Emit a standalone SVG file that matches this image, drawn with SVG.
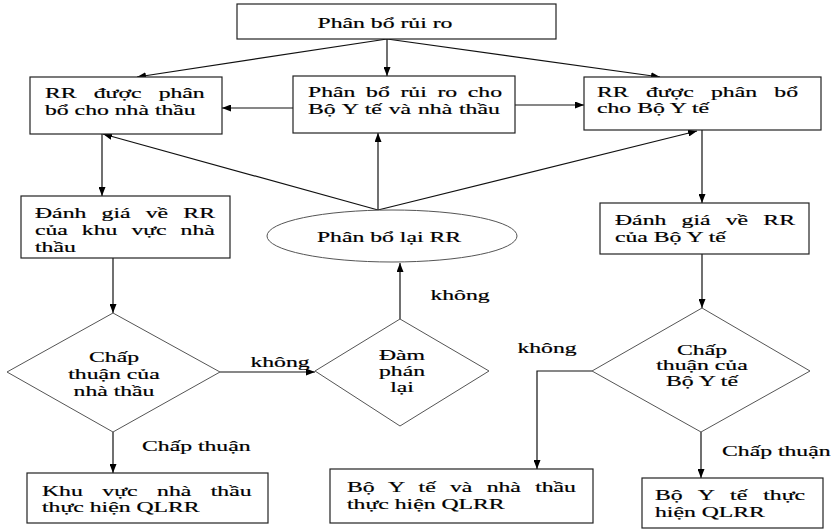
<svg xmlns="http://www.w3.org/2000/svg" width="835" height="530" viewBox="0 0 835 530">
<defs>
<style>
.t{font-family:"Liberation Serif","Times New Roman","DejaVu Serif",serif;font-size:15px;fill:#000;stroke:#000;stroke-width:0.2}
.m{text-anchor:middle}
.box{fill:#fff;stroke:#222;stroke-width:1.2}
.dia{fill:#fff;stroke:#555;stroke-width:1}
.c{fill:none;stroke:#111;stroke-width:1.2;marker-end:url(#a)}
</style>
<marker id="a" markerWidth="9" markerHeight="7" refX="9" refY="3.5" orient="auto" markerUnits="userSpaceOnUse"><path d="M0,0 L9,3.5 L0,7 z" fill="#000"/></marker>
</defs>
<rect width="835" height="530" fill="#fff"/>

<g id="connectors">
<line class="c" x1="387" y1="39" x2="137" y2="77"/>
<line class="c" x1="387" y1="39" x2="387" y2="76"/>
<line class="c" x1="387" y1="39" x2="660" y2="77"/>
<line class="c" x1="293" y1="108" x2="222" y2="108"/>
<line class="c" x1="515" y1="105" x2="584" y2="105"/>
<line class="c" x1="378" y1="210" x2="103" y2="134"/>
<line class="c" x1="378" y1="210" x2="378" y2="133"/>
<line class="c" x1="378" y1="210" x2="697" y2="131"/>
<line class="c" x1="102" y1="134" x2="102" y2="196"/>
<line class="c" x1="113" y1="258" x2="113" y2="313"/>
<line class="c" x1="220" y1="372" x2="315" y2="372"/>
<line class="c" x1="400" y1="319" x2="400" y2="263"/>
<line class="c" x1="113" y1="432" x2="113" y2="473"/>
<line class="c" x1="702" y1="130" x2="702" y2="203"/>
<line class="c" x1="702" y1="254" x2="702" y2="308"/>
<polyline class="c" points="592,371 537,371 537,469"/>
<line class="c" x1="701" y1="432" x2="701" y2="478"/>
<text class="t m" transform="translate(280,367) scale(1.58,1)">không</text>
<text class="t m" transform="translate(460,300) scale(1.58,1)">không</text>
<text class="t m" transform="translate(547,353) scale(1.58,1)">không</text>
<text class="t" transform="translate(142,451) scale(1.58,1)">Chấp thuận</text>
<text class="t" transform="translate(722,456) scale(1.58,1)">Chấp thuận</text>
</g>

<g id="n-top">
<rect class="box" x="237" y="4" width="319" height="35"/>
<text class="t m" transform="translate(385,28) scale(1.58,1)">Phân bổ rủi ro</text>
</g>

<g id="n-rr-nhathau">
<rect class="box" x="30" y="77" width="192" height="57"/>
<text class="t" transform="translate(45,98) scale(1.58,1)" word-spacing="7.1">RR được phân</text>
<text class="t" transform="translate(45,115) scale(1.58,1)">bổ cho nhà thầu</text>
</g>

<g id="n-phanbo-chung">
<rect class="box" x="293" y="76" width="222" height="57"/>
<text class="t" transform="translate(308,97) scale(1.58,1)" word-spacing="3">Phân bổ rủi ro cho</text>
<text class="t" transform="translate(308,114) scale(1.58,1)" word-spacing="0.6">Bộ Y tế và nhà thầu</text>
</g>

<g id="n-rr-boyte">
<rect class="box" x="584" y="77" width="237" height="53"/>
<text class="t" transform="translate(597,97) scale(1.58,1)" word-spacing="7.2">RR được phân bổ</text>
<text class="t" transform="translate(597,113) scale(1.58,1)">cho Bộ Y tế</text>
</g>

<g id="n-danhgia-nhathau">
<rect class="box" x="21" y="196" width="209" height="62"/>
<text class="t" transform="translate(35,218) scale(1.58,1)" word-spacing="5.9">Đánh giá về RR</text>
<text class="t" transform="translate(35,235) scale(1.58,1)" word-spacing="5.1">của khu vực nhà</text>
<text class="t" transform="translate(35,252) scale(1.58,1)">thầu</text>
</g>

<g id="n-phanbolai">
<ellipse class="dia" cx="392" cy="236" rx="125" ry="26"/>
<text class="t m" transform="translate(389,242) scale(1.58,1)">Phân bổ lại RR</text>
</g>

<g id="n-danhgia-boyte">
<rect class="box" x="600" y="203" width="209" height="51"/>
<text class="t" transform="translate(615,225) scale(1.58,1)" word-spacing="5.9">Đánh giá về RR</text>
<text class="t" transform="translate(615,242) scale(1.58,1)">của Bộ Y tế</text>
</g>

<g id="n-chapthuan-nhathau">
<polygon class="dia" points="113,313 220,372 113,432 7,372"/>
<text class="t m" transform="translate(114,362) scale(1.58,1)">Chấp</text>
<text class="t m" transform="translate(114,379) scale(1.58,1)">thuận của</text>
<text class="t m" transform="translate(114,396) scale(1.58,1)">nhà thầu</text>
</g>

<g id="n-damphan">
<polygon class="dia" points="400,319 489,371 400,426 315,371"/>
<text class="t m" transform="translate(402,360) scale(1.58,1)">Đàm</text>
<text class="t m" transform="translate(402,376) scale(1.58,1)">phán</text>
<text class="t m" transform="translate(402,392) scale(1.58,1)">lại</text>
</g>

<g id="n-chapthuan-boyte">
<polygon class="dia" points="702,308 810,371 701,432 592,371"/>
<text class="t m" transform="translate(702,355) scale(1.58,1)">Chấp</text>
<text class="t m" transform="translate(702,370) scale(1.58,1)">thuận của</text>
<text class="t m" transform="translate(702,386) scale(1.58,1)">Bộ Y tế</text>
</g>

<g id="n-khuvuc-qlrr">
<rect class="box" x="27" y="473" width="241" height="50"/>
<text class="t" transform="translate(42,496) scale(1.58,1)" word-spacing="8.6">Khu vực nhà thầu</text>
<text class="t" transform="translate(42,512) scale(1.58,1)">thực hiện QLRR</text>
</g>

<g id="n-chung-qlrr">
<rect class="box" x="330" y="469" width="263" height="54"/>
<text class="t" transform="translate(347,492) scale(1.58,1)" word-spacing="5.3">Bộ Y tế và nhà thầu</text>
<text class="t" transform="translate(347,509) scale(1.58,1)">thực hiện QLRR</text>
</g>

<g id="n-boyte-qlrr">
<rect class="box" x="642" y="478" width="181" height="50"/>
<text class="t" transform="translate(655,500) scale(1.58,1)" word-spacing="6.4">Bộ Y tế thực</text>
<text class="t" transform="translate(655,517) scale(1.58,1)">hiện QLRR</text>
</g>
</svg>
